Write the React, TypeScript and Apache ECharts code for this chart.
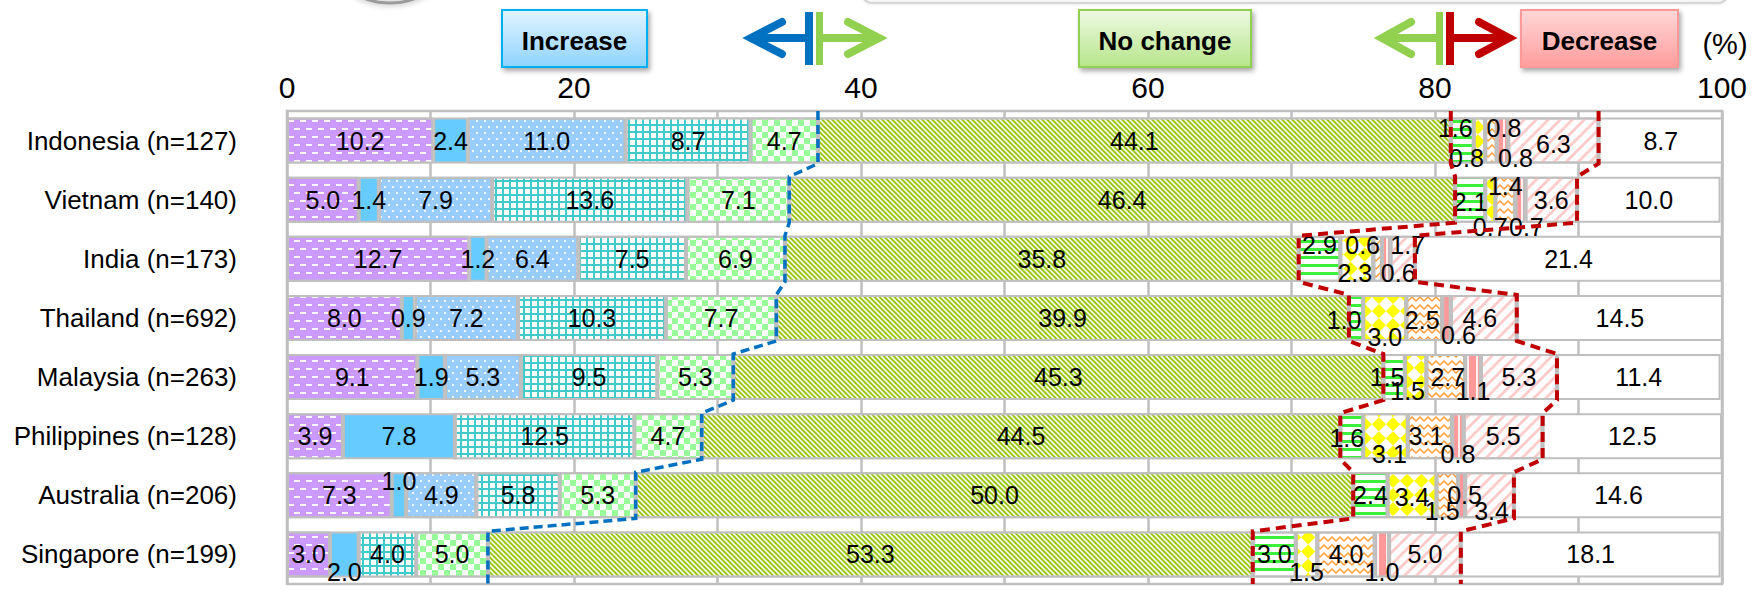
import React, { useEffect, useRef } from "react";
import * as echarts from "echarts";

// Respondents by market
const countries = [
  "Indonesia (n=127)",
  "Vietnam (n=140)",
  "India (n=173)",
  "Thailand (n=692)",
  "Malaysia (n=263)",
  "Philippines (n=128)",
  "Australia (n=206)",
  "Singapore (n=199)",
];

// Share of answers (%) per market, in stacking order
const incLarge = [10.2, 5.0, 12.7, 8.0, 9.1, 3.9, 7.3, 3.0];
const incSolid = [2.4, 1.4, 1.2, 0.9, 1.9, 7.8, 1.0, 2.0];
const incDots = [11.0, 7.9, 6.4, 7.2, 5.3, 0, 4.9, 0];
const incGrid = [8.7, 13.6, 7.5, 10.3, 9.5, 12.5, 5.8, 4.0];
const incSlight = [4.7, 7.1, 6.9, 7.7, 5.3, 4.7, 5.3, 5.0];
const noChange = [44.1, 46.4, 35.8, 39.9, 45.3, 44.5, 50.0, 53.3];
const decSlight = [1.6, 2.1, 2.9, 1.0, 1.5, 1.6, 2.4, 3.0];
const decDiamond = [0.8, 0.7, 2.3, 3.0, 1.5, 3.1, 3.4, 1.5];
const decWave = [0.8, 1.4, 0.6, 2.5, 2.7, 3.1, 1.5, 4.0];
const decSolid = [0.8, 0.7, 0.6, 0.6, 1.1, 0.8, 0.5, 1.0];
const decLarge = [6.3, 3.6, 1.7, 4.6, 5.3, 5.5, 3.4, 5.0];
const unknown = [8.7, 10.0, 21.4, 14.5, 11.4, 12.5, 14.6, 18.1];

const xTicks = [0, 20, 40, 60, 80, 100];

const segments = [
  incLarge, incSolid, incDots, incGrid, incSlight, noChange,
  decSlight, decDiamond, decWave, decSolid, decLarge, unknown,
];
const segmentNames = [
  "Increase (large)", "Increase (solid)", "Increase (dots)", "Increase (grid)", "Increase (slight)",
  "No change", "Decrease (slight)", "Decrease (diamond)", "Decrease (wave)", "Decrease (solid)",
  "Decrease (large)", "Unknown",
];

const FONT = "'Liberation Sans', Arial, sans-serif";
const BAR_RATIO = 0.78;

// Tileable diagonal stripe shapes ("\" and "/")
const BACK_STRIPE = "path://M0,0 L1.1,0 L5,3.9 L5,5 L3.9,5 L0,1.1 Z M3.9,0 L5,0 L5,1.1 Z M0,3.9 L0,5 L1.1,5 Z";
const FWD_STRIPE = "path://M0,10 L10,0 L12,0 L12,2 L2,12 L0,12 Z M0,0 L2,0 L0,2 Z M12,10 L12,12 L10,12 Z";
const ZIGZAG = "path://M0,4 L4,0 L8,4 L8,6 L4,2 L0,6 Z";

// Fill + pattern for each segment
const rectStripe = { symbol: "rect", symbolSize: 1, symbolKeepAspect: false };
const segmentStyles: any[] = [
  { color: "#CC99FF", decal: { ...rectStripe, color: "rgba(255,255,255,0.9)", dashArrayX: [[6, 6], [0, 6, 6, 0]], dashArrayY: [2, 6] } },
  { color: "#66CCFF" },
  { color: "#99CCFF", decal: { ...rectStripe, color: "rgba(255,255,255,0.85)", dashArrayX: [[2, 6], [0, 4, 2, 2]], dashArrayY: [2, 4] } },
  { color: "#40CACA", decal: { ...rectStripe, color: "#FFFFFF", dashArrayX: [5, 2], dashArrayY: [5, 2] } },
  { color: "#FFFFFF", decal: { ...rectStripe, color: "#99FF99", dashArrayX: [[6, 6], [0, 6, 6, 0]], dashArrayY: [6, 0] } },
  { color: "#9BC715", decal: { symbol: BACK_STRIPE, symbolSize: 1, symbolKeepAspect: false, color: "#FFFFFF", dashArrayX: [5, 0], dashArrayY: [5, 0] } },
  { color: "#FFFFFF", decal: { ...rectStripe, color: "#3CF03C", dashArrayX: [1, 0], dashArrayY: [3, 5] } },
  { color: "#FFFFFF", decal: { ...rectStripe, color: "#FFFF00", dashArrayX: [[10, 10], [0, 10, 10, 0]], dashArrayY: [10, 0], rotation: Math.PI / 4 } },
  { color: "#FFFFFF", decal: { symbol: ZIGZAG, symbolSize: 1, symbolKeepAspect: false, color: "#FF9933", dashArrayX: [8, 0], dashArrayY: [6, 2] } },
  { color: "#FF9999", decal: { ...rectStripe, color: "rgba(255,255,255,0.85)", dashArrayX: [2, 7], dashArrayY: [1, 0] } },
  { color: "#FFFFFF", decal: { symbol: FWD_STRIPE, symbolSize: 1, symbolKeepAspect: false, color: "#FFCACA", dashArrayX: [12, 0], dashArrayY: [12, 0] } },
  { color: "#FFFFFF" },
];

// Label nudges: [segment, row, dx, dy] in pixels from the segment centre
const labelNudges: number[][] = [
  [1, 6, 0, -14], [1, 7, 0, 18],
  [6, 0, -7, -13], [7, 0, -13, 17], [8, 0, 13, -13], [9, 0, 13, 17], [10, 0, 0, 3],
  [6, 1, 0, 2], [7, 1, 0, 27], [8, 1, 0, -14], [9, 1, 6, 27],
  [6, 2, 0, -14], [7, 2, -2, 14], [8, 2, -15, -14], [9, 2, 12, 14], [10, 2, 5, -14],
  [6, 3, -12, 2], [7, 3, 0, 19], [8, 3, -2, 2], [9, 3, 12, 17], [10, 3, -4, 0],
  [6, 4, -7, 0], [7, 4, -8, 14], [8, 4, 2, 0], [9, 4, 0, 14],
  [6, 5, -5, 2], [7, 5, 4, 18], [8, 5, -4, 0], [9, 5, 0, 18],
  [7, 6, 0, 2], [8, 6, -5, 16], [9, 6, 3, 0], [10, 6, 2, 16],
  [7, 7, 0, 18], [9, 7, 0, 18],
];

const sumOf = (lists: number[][], r: number) => lists.reduce((s, l) => s + l[r], 0);
const incEnd = countries.map((_, r) => sumOf(segments.slice(0, 5), r));
const noChangeEnd = countries.map((_, r) => sumOf(segments.slice(0, 6), r));
const decEnd = countries.map((_, r) => sumOf(segments.slice(0, 11), r));

function renderBoundaries(params: any, api: any) {
  const cs = params.coordSys;
  const half = (api.size([0, 1])[1] * BAR_RATIO) / 2;
  const last = countries.length - 1;
  const path = (xs: number[]) => {
    const pts: number[][] = [];
    xs.forEach((v, i) => {
      const p = api.coord([v, i]);
      pts.push([p[0], i === 0 ? cs.y : p[1] - half]);
      pts.push([p[0], i === last ? cs.y + cs.height : p[1] + half]);
    });
    return pts;
  };
  const line = (xs: number[], stroke: string, lw: number, dash: number[]) => ({
    type: "polyline",
    shape: { points: path(xs) },
    style: { stroke, lineWidth: lw, lineDash: dash, fill: "none" },
  });
  return {
    type: "group",
    children: [
      line(incEnd, "#0070C0", 3.5, [9, 5]),
      line(noChangeEnd, "#C00000", 4, [10, 6]),
      line(decEnd, "#C00000", 4, [10, 6]),
    ],
  };
}

function headerBox(x: number, w: number, label: string, top: string, bottom: string, border: string) {
  return [
    {
      type: "rect",
      shape: { x, y: 10, width: w, height: 57 },
      style: {
        fill: new echarts.graphic.LinearGradient(0, 0, 0, 1, [
          { offset: 0, color: top },
          { offset: 1, color: bottom },
        ]),
        stroke: border,
        lineWidth: 2,
        shadowBlur: 5,
        shadowOffsetX: 2,
        shadowOffsetY: 3,
        shadowColor: "rgba(0,0,0,0.35)",
      },
    },
    {
      type: "text",
      style: {
        text: label,
        x: x + w / 2,
        y: 41,
        align: "center",
        verticalAlign: "middle",
        fontFamily: FONT,
        fontWeight: "bold",
        fontSize: 26,
        fill: "#000",
      },
    },
  ];
}

function arrow(tipX: number, armX: number, shaftEnd: number, color: string) {
  const st = { stroke: color, lineWidth: 8, lineCap: "round", lineJoin: "miter", fill: "none" };
  return [
    { type: "line", shape: { x1: tipX, y1: 38, x2: shaftEnd, y2: 38 }, style: { ...st, lineCap: "butt" } },
    { type: "polyline", shape: { points: [[armX, 22], [tipX, 38], [armX, 54]] }, style: st },
  ];
}

const bar = (x: number, w: number, color: string) => ({
  type: "rect",
  shape: { x, y: 12, width: w, height: 53 },
  style: { fill: color },
});

export default function App() {
  const ref = useRef<HTMLDivElement>(null);

  useEffect(() => {
    if (!ref.current) return;
    const chart = echarts.init(ref.current, undefined, { renderer: "svg" });

    const barSeries = segments.map((values, s) => ({
      name: segmentNames[s],
      type: "bar",
      stack: "total",
      barWidth: `${BAR_RATIO * 100}%`,
      itemStyle: { ...segmentStyles[s], borderColor: "#BFBFBF", borderWidth: 2 },
      label: {
        show: true,
        position: "inside",
        fontFamily: FONT,
        fontSize: 25,
        color: "#000",
        formatter: (p: any) => (p.value > 0 ? Number(p.value).toFixed(1) : ""),
      },
      data: values.map((v, r) => {
        const n = labelNudges.find((e) => e[0] === s && e[1] === r);
        return n ? { value: v, label: { offset: [n[2], n[3]] } } : { value: v };
      }),
    }));

    const graphic: any[] = [
      // remnants of the framed panel above the chart
      {
        type: "ellipse",
        shape: { cx: 390, cy: -42, rx: 58, ry: 45 },
        style: { fill: "none", stroke: "#9A9A9A", lineWidth: 3, shadowBlur: 6, shadowColor: "rgba(0,0,0,0.4)" },
      },
      {
        type: "rect",
        shape: { x: 862, y: -60, width: 866, height: 63, r: 10 },
        style: { fill: "none", stroke: "#D6D6D6", lineWidth: 2, shadowBlur: 3, shadowColor: "rgba(0,0,0,0.15)" },
      },
      ...headerBox(502, 145, "Increase", "#E2F4FF", "#8ED3FF", "#00B0F0"),
      ...headerBox(1079, 172, "No change", "#EEF9E4", "#B6E58A", "#92D050"),
      ...headerBox(1521, 157, "Decrease", "#FFD8D8", "#FF9C9C", "#FF9999"),
      ...arrow(751, 782, 806, "#0070C0"),
      bar(805, 8, "#0070C0"),
      bar(816, 7, "#92D050"),
      ...arrow(879, 848, 822, "#92D050"),
      ...arrow(1382, 1411, 1437, "#92D050"),
      bar(1436, 7, "#92D050"),
      bar(1446, 8, "#C00000"),
      ...arrow(1509, 1479, 1453, "#C00000"),
      {
        type: "text",
        style: { text: "(%)", x: 1725, y: 44, align: "center", verticalAlign: "middle", fontFamily: FONT, fontSize: 29, fill: "#000" },
      },
    ];

    chart.setOption({
      animation: false,
      backgroundColor: "#FFFFFF",
      grid: {
        left: 287,
        top: 111,
        width: 1435,
        height: 473,
        show: true,
        borderColor: "#BFBFBF",
        borderWidth: 2.5,
        backgroundColor: "transparent",
      },
      xAxis: {
        type: "value",
        position: "top",
        min: xTicks[0],
        max: xTicks[xTicks.length - 1],
        interval: xTicks[1] - xTicks[0],
        axisLine: { show: false },
        axisTick: { show: false },
        axisLabel: { fontFamily: FONT, fontSize: 30, color: "#000", margin: 9 },
        splitLine: { show: true, lineStyle: { color: "#BFBFBF", width: 2.5 } },
        minorTick: { show: false, splitNumber: 2 },
        minorSplitLine: { show: true, lineStyle: { color: "#BFBFBF", width: 2.5 } },
      },
      yAxis: {
        type: "category",
        data: countries,
        inverse: true,
        axisLine: { show: false },
        axisTick: { show: false },
        axisLabel: { fontFamily: FONT, fontSize: 26, color: "#000", margin: 50 },
      },
      series: [
        ...barSeries,
        {
          type: "custom",
          name: "boundaries",
          coordinateSystem: "cartesian2d",
          z: 10,
          silent: true,
          data: [[0, 0]],
          renderItem: renderBoundaries,
        },
      ],
      graphic,
    });

    return () => chart.dispose();
  }, []);

  return (
    <div
      ref={ref}
      style={{ position: "fixed", left: 0, top: 0, width: "1758px", height: "592px", background: "#fff" }}
    />
  );
}
